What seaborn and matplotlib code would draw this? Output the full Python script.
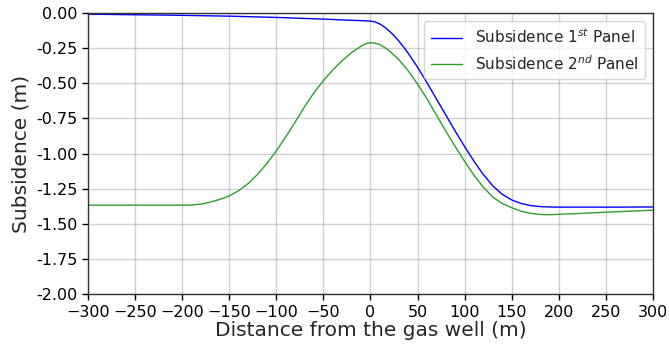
import numpy as np
import pandas as pd
import matplotlib
matplotlib.use("Agg")
import matplotlib.pyplot as plt
import seaborn as sns

# Distance from the gas well (m) and subsidence (m) for each panel
x_panel1 = [-300, -250, -200, -150, -100, -50, -25, -10, 0, 5, 10, 15, 20, 25, 30, 35, 40,
            50, 60, 70, 80, 90, 100, 110, 120, 130, 140, 150, 160, 170, 180, 190, 200,
            250, 300]
s_panel1 = [-0.008, -0.012, -0.016, -0.022, -0.031, -0.043, -0.050, -0.054, -0.057,
            -0.063, -0.078, -0.100, -0.128, -0.160, -0.198, -0.240, -0.285,
            -0.385, -0.495, -0.610, -0.725, -0.840, -0.950, -1.055, -1.150, -1.230,
            -1.290, -1.330, -1.355, -1.370, -1.377, -1.380, -1.381, -1.381, -1.380]

x_panel2 = [-300, -250, -200, -190, -180, -170, -160, -150, -140, -130, -120, -110, -100,
            -90, -80, -70, -60, -50, -40, -30, -20, -10, -5, 0, 5, 10, 15, 20, 30, 40, 50,
            60, 70, 80, 90, 100, 110, 120, 130, 140, 150, 160, 170, 180, 190, 200, 225,
            250, 275, 300]
s_panel2 = [-1.367, -1.367, -1.367, -1.366, -1.360, -1.345, -1.326, -1.302, -1.264,
            -1.214, -1.148, -1.071, -0.981, -0.881, -0.776, -0.667, -0.567, -0.481,
            -0.405, -0.338, -0.281, -0.236, -0.219, -0.210, -0.214, -0.225, -0.244,
            -0.268, -0.330, -0.410, -0.505, -0.610, -0.725, -0.840, -0.950, -1.055,
            -1.155, -1.240, -1.310, -1.355, -1.385, -1.410, -1.425, -1.433, -1.435,
            -1.432, -1.425, -1.417, -1.410, -1.403]

label1 = r"Subsidence 1$^{st}$ Panel"
label2 = r"Subsidence 2$^{nd}$ Panel"

df = pd.concat([
    pd.DataFrame({"x": x_panel1, "s": s_panel1, "series": label1}),
    pd.DataFrame({"x": x_panel2, "s": s_panel2, "series": label2}),
])

sns.set_theme(style="ticks")
plt.rcParams["font.family"] = ["DejaVu Sans"]

fig = plt.figure(figsize=(6.69, 3.44), dpi=100)
ax = fig.add_axes([0.1315, 0.145, 0.8445, 0.817])

sns.lineplot(data=df, x="x", y="s", hue="series", sort=False,
             palette={label1: "blue", label2: "tab:green"},
             linewidth=1.0, ax=ax, estimator=None)

ax.set_xlim(-300, 300)
ax.set_ylim(-2.0, 0.0)
ax.set_xticks(np.arange(-300, 301, 50))
ax.set_yticks(np.arange(-2.0, 0.01, 0.25))
ax.yaxis.set_major_formatter(matplotlib.ticker.FormatStrFormatter("%.2f"))
ax.grid(True, color="0.55", linewidth=1.0, alpha=0.4)
ax.tick_params(labelsize=11.5, length=4, width=1, colors="black")
for sp in ax.spines.values():
    sp.set_color("0.2")
    sp.set_linewidth(1.0)

ax.set_xlabel("Distance from the gas well (m)", fontsize=14.5, labelpad=1)
ax.set_ylabel("Subsidence (m)", fontsize=14.5, labelpad=4)

ax.legend(title=None, loc="upper right", fontsize=11, frameon=True,
          handlelength=2.0, handletextpad=0.85, borderpad=0.45, labelspacing=0.5)

fig.savefig("out.png", dpi=100)
